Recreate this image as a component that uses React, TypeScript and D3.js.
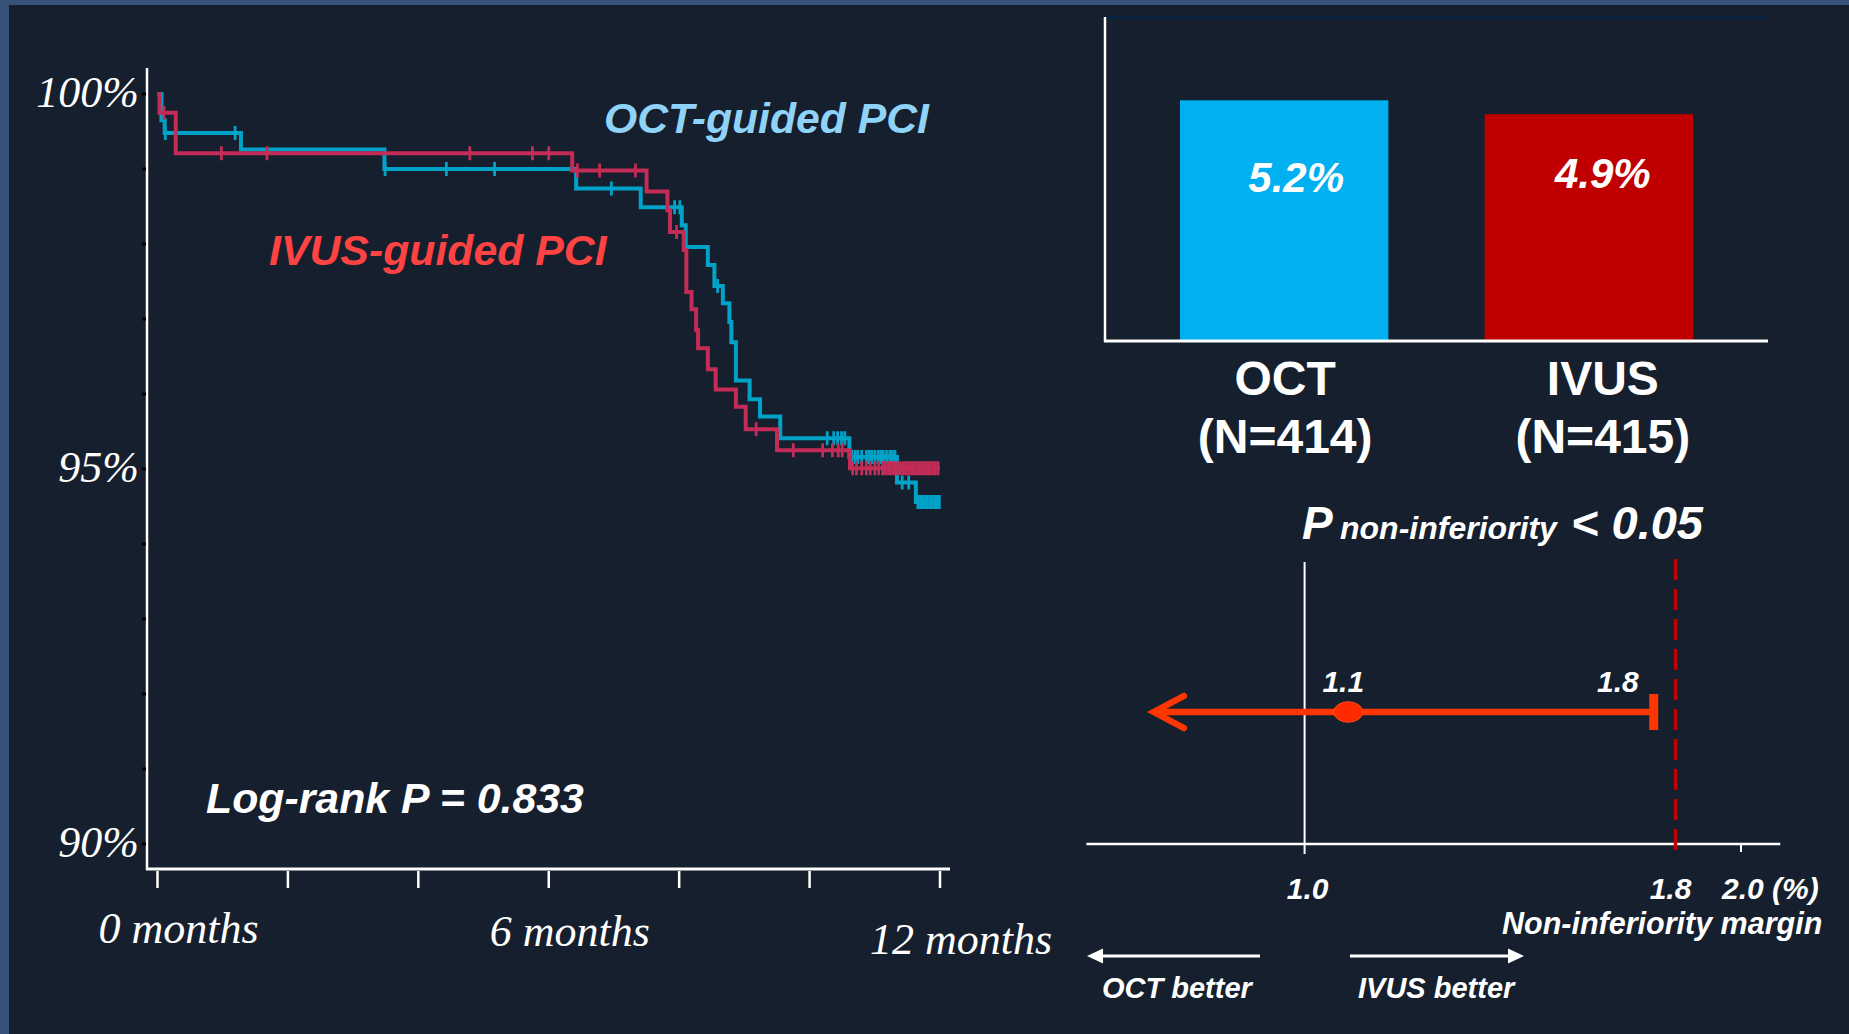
import * as d3 from 'd3';
import React from 'react';

// ---- Kaplan-Meier (event-free survival, %) ----
// step points: [month, survival %]
const octSteps: [number, number][] = [
  [0, 100],
  [0.06, 99.65],
  [0.11, 99.48],
  [1.28, 99.26],
  [3.48, 99.0],
  [6.42, 98.74],
  [7.41, 98.49],
  [8.04, 98.25],
  [8.1, 97.96],
  [8.44, 97.72],
  [8.54, 97.44],
  [8.67, 97.21],
  [8.77, 96.96],
  [8.8, 96.69],
  [8.87, 96.18],
  [9.08, 95.93],
  [9.24, 95.7],
  [9.55, 95.41],
  [10.61, 95.16],
  [11.34, 94.82],
  [11.63, 94.56],
];
const ivusSteps: [number, number][] = [
  [0, 100],
  [0.03, 99.75],
  [0.28, 99.21],
  [6.36, 98.98],
  [7.5, 98.7],
  [7.82, 98.45],
  [7.86, 98.16],
  [8.07, 97.92],
  [8.11, 97.36],
  [8.19, 97.13],
  [8.26, 96.85],
  [8.29, 96.61],
  [8.44, 96.33],
  [8.56, 96.06],
  [8.87, 95.83],
  [9.02, 95.53],
  [9.5, 95.25],
  [10.62, 95.01],
];
const octCensor = [
  0.12, 1.19, 3.49, 4.43, 5.17, 6.96, 7.93, 8.01, 8.59, 10.27, 10.37, 10.43, 10.49,
  10.54, 10.65, 10.7, 10.74, 10.8, 10.87, 10.91, 10.95, 11.0, 11.05, 11.09, 11.13, 11.18,
  11.23, 11.27, 11.31, 11.42, 11.52, 11.66, 11.7, 11.73, 11.77, 11.8, 11.84, 11.87, 11.91,
  11.94, 11.97, 11.99,
];
const ivusCensor = [
  0.1, 0.98, 1.68, 4.79, 5.75, 6.0, 6.44, 6.78, 7.33, 7.96, 9.18, 9.75, 10.2, 10.35,
  10.44, 10.5, 10.66, 10.72, 10.8, 10.87, 10.93, 11.0, 11.06, 11.12, 11.16, 11.2, 11.24,
  11.28, 11.31, 11.35, 11.39, 11.43, 11.47, 11.51, 11.55, 11.58, 11.62, 11.66, 11.7,
  11.74, 11.78, 11.81, 11.85, 11.89, 11.93, 11.97,
];
const kmEnd = 12;
const monthTicks = [0, 2, 4, 6, 8, 10, 12];
const monthLabels = [0, 6, 12];
const monthLabelDy = [0, 3, 11];
const pctMinor = d3.range(90, 101);
const pctLabels = [100, 95, 90];

// ---- bar chart (event rate, %) ----
const barGroups = ['OCT', 'IVUS'];
const barN = [414, 415];
const barRates = [5.2, 4.9];
const barColors = ['#00b0f0', '#c00000'];
const barLabelY = [192, 188];
const catLabelDx = [1, 14];

// ---- non-inferiority plot ----
const diffPoint = 1.1;
const diffUpper = 1.8;
const diffLowerArrow = 0.65;
const marginDrawn = 1.85; // dashed line sits just right of the 1.8 CI cap in the source
const fpTicks = [1.0, 2.0];

const SANS = "'Liberation Sans', Arial, sans-serif";
const SERIF = "'Liberation Serif', 'Times New Roman', serif";
const BG = '#161f2d';
const OCT_LINE = '#00a2c7';
const IVUS_LINE = '#c22c57';

const survAt = (steps: [number, number][], m: number) => {
  let v = steps[0][1];
  for (const s of steps) if (s[0] <= m) v = s[1];
  return v;
};

const App: React.FC = () => {
  // KM scales
  const x = d3.scaleLinear().domain([0, 12]).range([157.5, 940]);
  const y = d3.scaleLinear().domain([90, 100]).range([844, 94]);
  const stepLine = d3
    .line<[number, number]>()
    .x((d) => x(d[0]))
    .y((d) => y(d[1]))
    .curve(d3.curveStepAfter);
  const full = (s: [number, number][]) => [...s, [kmEnd, s[s.length - 1][1]] as [number, number]];

  // bar scales
  const bx = d3.scaleBand().domain(barGroups).range([1105, 1768]).paddingInner(0.316).paddingOuter(0.246);
  const by = d3.scaleLinear().domain([0, 7]).range([341, 17]);

  // forest scale
  const fx = d3.scaleLinear().domain([1, 2]).range([1304.6, 1741]);
  const rowY = 712;
  const axY = 844;

  const censorMarks = (steps: [number, number][], cens: number[], color: string) =>
    cens.map((m, i) => (
      <line
        key={i}
        x1={x(m)}
        x2={x(m)}
        y1={y(survAt(steps, m)) - 7}
        y2={y(survAt(steps, m)) + 7}
        stroke={color}
        strokeWidth={2.8}
      />
    ));

  const tip = fx(diffLowerArrow);

  return (
    <svg
      width={1849}
      height={1034}
      style={{ position: 'absolute', left: 0, top: 0, display: 'block' }}
    >
      <rect width={1849} height={1034} fill={BG} />
      <rect width={1849} height={5} fill="#38537a" />
      <rect width={9} height={1034} fill="#38537a" />

      {/* ===== KM panel ===== */}
      <line x1={147} x2={147} y1={68} y2={870} stroke="#fff" strokeWidth={2.5} />
      <line x1={146} x2={950} y1={869} y2={869} stroke="#fff" strokeWidth={3} />
      {pctMinor.map((p) => (
        <line key={p} x1={142} x2={146} y1={y(p)} y2={y(p)} stroke="#000" strokeWidth={3} />
      ))}
      {monthTicks.map((m) => (
        <line key={m} x1={x(m)} x2={x(m)} y1={871} y2={888} stroke="#fff" strokeWidth={2.5} />
      ))}
      {pctLabels.map((p) => (
        <text
          key={p}
          x={139}
          y={y(p) + 13}
          textAnchor="end"
          fontFamily={SERIF}
          fontStyle="italic"
          fontSize={44}
          fill="#fff"
        >
          {p}%
        </text>
      ))}
      {monthLabels.map((m, i) => (
        <text
          key={m}
          x={x(m) + 21}
          y={943 + monthLabelDy[i]}
          textAnchor="middle"
          fontFamily={SERIF}
          fontStyle="italic"
          fontSize={44}
          fill="#fff"
        >
          {m} months
        </text>
      ))}

      <path d={stepLine(full(octSteps)) || ''} fill="none" stroke={OCT_LINE} strokeWidth={4} />
      {censorMarks(octSteps, octCensor, OCT_LINE)}
      <path d={stepLine(full(ivusSteps)) || ''} fill="none" stroke={IVUS_LINE} strokeWidth={4} />
      {censorMarks(ivusSteps, ivusCensor, IVUS_LINE)}

      <text x={604} y={133} fontFamily={SANS} fontWeight="bold" fontStyle="italic" fontSize={42.7} fill="#8fd3f8">
        OCT-guided PCI
      </text>
      <text x={269} y={265} fontFamily={SANS} fontWeight="bold" fontStyle="italic" fontSize={42.8} fill="#ff4242">
        IVUS-guided PCI
      </text>
      <text x={206} y={813} fontFamily={SANS} fontWeight="bold" fontStyle="italic" fontSize={42.8} fill="#fff">
        Log-rank P = 0.833
      </text>

      {/* ===== bar panel ===== */}
      <line x1={1105} x2={1766} y1={17.5} y2={17.5} stroke="#08223d" strokeWidth={3} />
      {barGroups.map((g, i) => (
        <g key={g}>
          <rect
            x={bx(g)}
            y={by(barRates[i])}
            width={bx.bandwidth()}
            height={by(0) - by(barRates[i])}
            fill={barColors[i]}
          />
          <text
            x={(bx(g) || 0) + bx.bandwidth() / 2 + 12 + (i ? 2 : 0)}
            y={barLabelY[i]}
            textAnchor="middle"
            fontFamily={SANS}
            fontWeight="bold"
            fontStyle="italic"
            fontSize={42}
            fill="#fff"
          >
            {barRates[i].toFixed(1)}%
          </text>
          <text
            x={(bx(g) || 0) + bx.bandwidth() / 2 + catLabelDx[i]}
            y={395}
            textAnchor="middle"
            fontFamily={SANS}
            fontWeight="bold"
            fontSize={48}
            fill="#fff"
          >
            {g}
          </text>
          <text
            x={(bx(g) || 0) + bx.bandwidth() / 2 + catLabelDx[i]}
            y={453}
            textAnchor="middle"
            fontFamily={SANS}
            fontWeight="bold"
            fontSize={48}
            fill="#fff"
          >
            (N={barN[i]})
          </text>
        </g>
      ))}
      <line x1={1105} x2={1105} y1={17} y2={342} stroke="#fff" strokeWidth={2.5} />
      <line x1={1104} x2={1768} y1={341} y2={341} stroke="#fff" strokeWidth={3} />

      {/* ===== non-inferiority panel ===== */}
      <text y={539} fontFamily={SANS} fontWeight="bold" fontStyle="italic" fill="#fff">
        <tspan x={1302} fontSize={46}>P</tspan>
        <tspan x={1340} fontSize={32}>non-inferiority</tspan>
        <tspan x={1571} fontSize={47}>&lt; 0.05</tspan>
      </text>

      <line x1={fx(0.5)} x2={fx(2.09)} y1={axY} y2={axY} stroke="#fff" strokeWidth={2.5} />
      <line x1={fx(1)} x2={fx(1)} y1={562} y2={854} stroke="#fff" strokeWidth={2} />
      <line x1={fx(2)} x2={fx(2)} y1={axY} y2={852} stroke="#fff" strokeWidth={2} />
      <line
        x1={fx(marginDrawn)}
        x2={fx(marginDrawn)}
        y1={559}
        y2={853}
        stroke="#c00000"
        strokeWidth={3.5}
        strokeDasharray="21 9"
      />

      <line x1={tip + 3} x2={fx(diffUpper)} y1={rowY} y2={rowY} stroke="#ff3600" strokeWidth={6.5} />
      <polyline
        points={`${tip + 32},${rowY - 16} ${tip + 2},${rowY} ${tip + 32},${rowY + 16}`}
        fill="none"
        stroke="#ff3600"
        strokeWidth={6.5}
        strokeLinecap="round"
      />
      <line x1={fx(diffUpper)} x2={fx(diffUpper)} y1={694} y2={730} stroke="#ff3600" strokeWidth={9} />
      <ellipse cx={fx(diffPoint)} cy={rowY} rx={14.5} ry={10.3} fill="#ff2a00" stroke="#ff4a10" strokeWidth={1} />

      <text x={fx(diffPoint) - 5} y={692} textAnchor="middle" fontFamily={SANS} fontWeight="bold" fontStyle="italic" fontSize={30} fill="#fff">
        {diffPoint.toFixed(1)}
      </text>
      <text x={fx(diffUpper) - 15} y={692} textAnchor="end" fontFamily={SANS} fontWeight="bold" fontStyle="italic" fontSize={30} fill="#fff">
        {diffUpper.toFixed(1)}
      </text>

      <text x={fx(fpTicks[0]) + 3} y={899} textAnchor="middle" fontFamily={SANS} fontWeight="bold" fontStyle="italic" fontSize={30} fill="#fff">
        {fpTicks[0].toFixed(1)}
      </text>
      <text x={fx(marginDrawn) - 5} y={899} textAnchor="middle" fontFamily={SANS} fontWeight="bold" fontStyle="italic" fontSize={30} fill="#fff">
        {diffUpper.toFixed(1)}
      </text>
      <text x={fx(fpTicks[1]) - 19} y={899} fontFamily={SANS} fontWeight="bold" fontStyle="italic" fontSize={30} fill="#fff">
        {fpTicks[1].toFixed(1)} (%)
      </text>
      <text x={1502} y={934} fontFamily={SANS} fontWeight="bold" fontStyle="italic" fontSize={30.5} fill="#fff">
        Non-inferiority margin
      </text>

      {/* direction arrows */}
      <line x1={1100} x2={1260} y1={956} y2={956} stroke="#fff" strokeWidth={3} />
      <polygon points="1087,956 1103,948.5 1103,963.5" fill="#fff" />
      <line x1={1350} x2={1510} y1={956} y2={956} stroke="#fff" strokeWidth={3} />
      <polygon points="1524,956 1508,948.5 1508,963.5" fill="#fff" />
      <text x={1102} y={998} fontFamily={SANS} fontWeight="bold" fontStyle="italic" fontSize={29} fill="#fff">
        OCT better
      </text>
      <text x={1358} y={998} fontFamily={SANS} fontWeight="bold" fontStyle="italic" fontSize={29} fill="#fff">
        IVUS better
      </text>
    </svg>
  );
};

export default App;
